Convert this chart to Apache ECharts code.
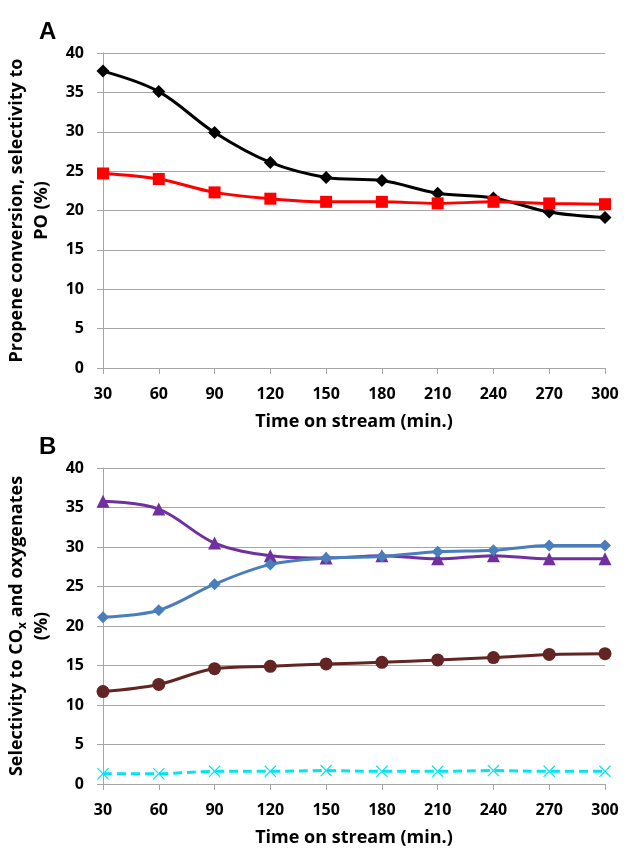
<!DOCTYPE html>
<html style="height:100%;width:100%;">
<head>
  <meta charset="utf-8">
  <title>Propene conversion / selectivity</title>
  <script src="https://cdn.jsdelivr.net/npm/echarts@6/dist/echarts.min.js"></script>
</head>
<body style="margin:0px;height:100%;width:100%;background:#fff;">
  <div id="main" style="width:629px;height:850px"></div>
  <script type="text/javascript">
    // data
    var times = ['30', '60', '90', '120', '150', '180', '210', '240', '270', '300'];
    // panel A
    var conversion = [37.7, 35.1, 29.9, 26.1, 24.2, 23.8, 22.2, 21.6, 19.8, 19.1];
    var selPO = [24.7, 24.0, 22.3, 21.5, 21.1, 21.1, 20.9, 21.1, 20.9, 20.8];
    // panel B
    var selPurple = [35.8, 34.8, 30.5, 28.9, 28.6, 28.9, 28.5, 28.9, 28.5, 28.5];
    var selBlue = [21.1, 22.0, 25.3, 27.8, 28.6, 28.8, 29.4, 29.6, 30.2, 30.2];
    var selBrown = [11.7, 12.6, 14.6, 14.9, 15.2, 15.4, 15.7, 16.0, 16.4, 16.5];
    var selCyan = [1.3, 1.3, 1.6, 1.6, 1.7, 1.6, 1.6, 1.7, 1.6, 1.6];

    var fontFam = 'Open Sans';
    var gridGray = '#a6a6a6';
    // thin "x" marker (filled outline so it can be drawn as a symbol)
    var xSymbol = 'path://M0,0.7L0.7,0L5,4.3L9.3,0L10,0.7L5.7,5L10,9.3L9.3,10L5,5.7L0.7,10L0,9.3L4.3,5Z';

    function xAxisOf(idx) {
      return {
        type: 'category', gridIndex: idx, data: times, boundaryGap: false,
        name: 'Time on stream (min.)', nameLocation: 'middle', nameGap: 45,
        nameTextStyle: { fontFamily: fontFam, fontWeight: 'bold', fontSize: 18, color: '#000' },
        axisLine: { lineStyle: { color: gridGray, width: 1 } },
        axisTick: { show: true, length: 6, lineStyle: { color: gridGray } },
        axisLabel: { fontFamily: fontFam, fontWeight: 'bold', fontSize: 16, color: '#000', margin: 18 },
        splitLine: { show: false }
      };
    }
    function yAxisOf(idx, name) {
      return {
        type: 'value', gridIndex: idx, min: 0, max: 40, interval: 5,
        name: name, nameLocation: 'middle', nameGap: 42,
        nameTextStyle: {
          fontFamily: fontFam, fontWeight: 'bold', fontSize: 18, color: '#000', lineHeight: 25,
          rich: {
            s: { fontFamily: fontFam, fontWeight: 'bold', fontSize: 12, lineHeight: 25, padding: [10, 0, 0, 0] }
          }
        },
        axisLine: { show: true, lineStyle: { color: gridGray, width: 1 } },
        axisTick: { show: true, length: 6, lineStyle: { color: gridGray } },
        axisLabel: { fontFamily: fontFam, fontWeight: 'bold', fontSize: 16, color: '#000', margin: 19 },
        splitLine: { show: true, lineStyle: { color: gridGray, width: 1 } }
      };
    }
    function line(name, idx, data, color, symbol, size, dashed) {
      return {
        name: name, type: 'line', xAxisIndex: idx, yAxisIndex: idx, data: data,
        smooth: 0.35, symbol: symbol, symbolSize: size,
        lineStyle: { color: color, width: 3, type: dashed ? [9, 5] : 'solid' },
        itemStyle: { color: color },
        animation: false
      };
    }

    var myChart = echarts.init(document.getElementById('main'));
    var option = {
      backgroundColor: '#fff',
      title: [
        { text: 'A', left: 34, top: 15, textStyle: { fontFamily: 'Liberation Sans', fontWeight: 'bold', fontSize: 24, color: '#000' } },
        { text: 'B', left: 34, top: 430, textStyle: { fontFamily: 'Liberation Sans', fontWeight: 'bold', fontSize: 24, color: '#000' } }
      ],
      grid: [
        { left: 103, right: 24, top: 53, height: 315, outerBoundsMode: 'none' },
        { left: 103, right: 24, top: 468, height: 316, outerBoundsMode: 'none' }
      ],
      xAxis: [xAxisOf(0), xAxisOf(1)],
      yAxis: [
        yAxisOf(0, 'Propene conversion, selectivity to\nPO (%)'),
        yAxisOf(1, 'Selectivity to CO{s|x} and oxygenates\n(%)')
      ],
      series: [
        line('Propene conversion', 0, conversion, '#000000', 'diamond', 13),
        line('Selectivity to PO', 0, selPO, '#ff0000', 'rect', 12),
        line('purple', 1, selPurple, '#7030a0', 'triangle', 13),
        line('blue', 1, selBlue, '#4a7ebb', 'diamond', 12),
        line('brown', 1, selBrown, '#632523', 'circle', 13),
        line('cyan', 1, selCyan, '#00e5ee', xSymbol, 12, true)
      ]
    };
    myChart.setOption(option);
  </script>
</body>
</html>
